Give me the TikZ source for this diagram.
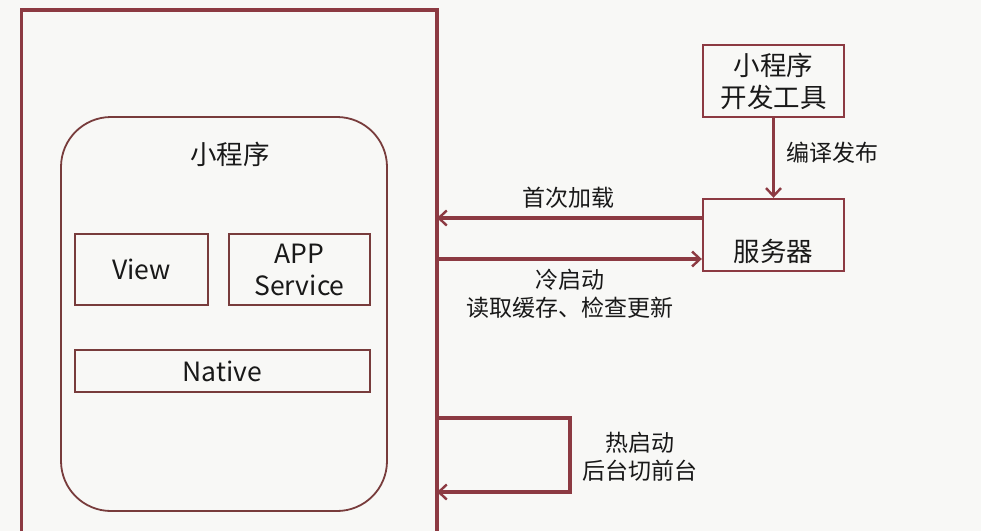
\documentclass[tikz,border=0pt]{standalone}
\usepackage{fontspec}
\setmainfont{Noto Sans CJK SC}
\usetikzlibrary{arrows.meta}
\definecolor{bord}{RGB}{140,58,66}
\definecolor{inner}{RGB}{120,60,60}
\definecolor{bg}{RGB}{248,248,246}
\definecolor{txt}{RGB}{25,25,25}
\tikzset{
  thick line/.style={draw=bord,line width=3.2pt},
  arr/.style={thick line,-{Straight Barb[length=8pt,width=15pt,line width=2.4pt]}},
  box/.style={draw=inner,line width=1.6pt,minimum width=#1,inner sep=0pt},
  dbox/.style={draw=bord,line width=2.4pt,inner sep=0pt,minimum width=141pt,minimum height=72pt},
  lab/.style={text=txt,font=\fontsize{23}{28}\selectfont,align=center,inner sep=0pt},
  big/.style={text=txt,font=\fontsize{26.5}{32}\selectfont,align=center,inner sep=0pt},
}
\begin{document}
\begin{tikzpicture}[x=1pt,y=-1pt]
\fill[bg] (0,0) rectangle (981,531);
\useasboundingbox (0,0) rectangle (981,531);
% outer frame (open at bottom)
\coordinate (oBL) at (21.5,531);
\coordinate (oTL) at (21.5,10);
\coordinate (oTR) at (437,10);
\coordinate (oBR) at (437,531);
\draw[thick line] (oBL) -- (oTL) -- (oTR) -- (oBR);
% inner rounded box
\draw[draw=inner,line width=1.8pt,rounded corners=50pt] (61,117) rectangle (387,511);
\node[big] (title) at (230,154) {小程序};
\node[box=133pt,minimum height=71pt] (view) at (141.5,269.5) {};
\node[big] at (view) {View};
\node[box=141pt,minimum height=71pt] (app) at (299.5,269.5) {};
\node[big] at (app) {APP\\Service};
\node[box=295pt,minimum height=42pt] (native) at (222.5,371) {};
\node[big] at (native) {Native};
% right side
\node[dbox] (dev) at (773.5,81) {};
\node[big] at (dev) {小程序\\开发工具};
\node[dbox] (srv) at (773.5,235) {};
\node[big] at ([yshift=-16pt]srv.center) {服务器};
\draw[arr] (dev.south) -- (srv.north);
\node[lab,anchor=west] at (786,153) {编译发布};
\coordinate (a1) at (437,218);
\coordinate (a2) at (437,259);
\draw[arr] (srv.west |- a1) -- (a1);
\node[lab] at (568,198) {首次加载};
\draw[arr] (a2) -- (srv.west |- a2);
\node[lab] at (570,294) {冷启动\\读取缓存、检查更新};
% hot start loop
\coordinate (h1) at (437,418);
\coordinate (h2) at (570,418);
\coordinate (h3) at (570,492);
\coordinate (h4) at (437,492);
\draw[arr] (h1) -- (h2) -- (h3) -- (h4);
\node[lab] at (640,457) {热启动\\后台切前台};
\end{tikzpicture}
\end{document}
